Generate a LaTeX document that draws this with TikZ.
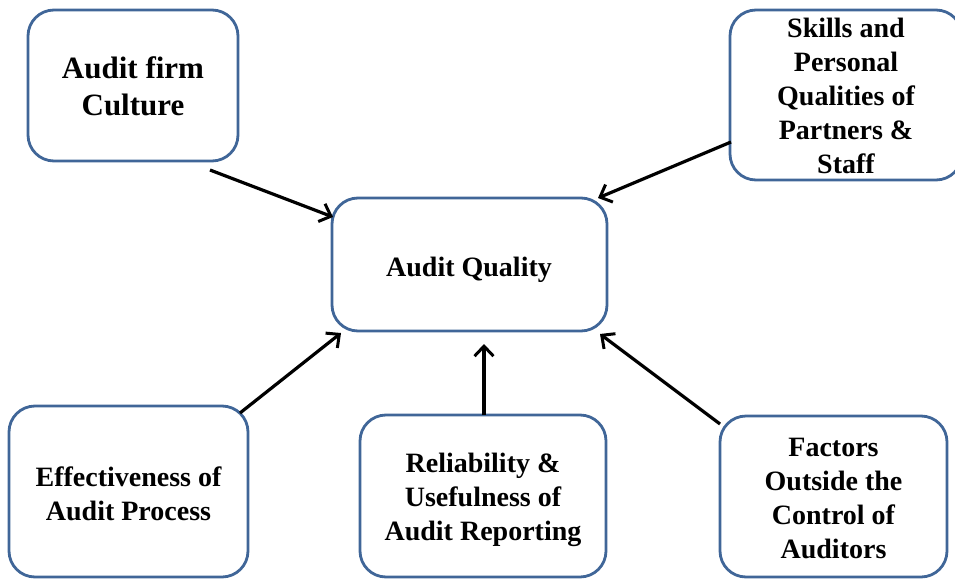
\documentclass[tikz,border=0pt]{standalone}
\usepackage{fontspec}
\setmainfont{Liberation Serif}
\usetikzlibrary{arrows.meta}
\definecolor{boxblue}{RGB}{64,102,152}
\begin{document}
\begin{tikzpicture}[x=1pt,y=-1pt,
  box/.style={draw=boxblue,line width=2.8pt,rounded corners=26pt,fill=white,inner sep=0pt},
  txt/.style={align=center,inner sep=0pt,font=\bfseries\fontsize{28}{34}\selectfont},
  conn/.style={line width=3.2pt,-{Straight Barb[length=10pt,width=19pt,line width=3pt]}}]
\useasboundingbox (0,0) rectangle (955,578);
\node[box,minimum width=210pt,minimum height=151pt] (culture) at (133,85.5) {};
\node[box,minimum width=232pt,minimum height=170pt] (skills) at (846,95) {};
\node[box,minimum width=275pt,minimum height=133pt] (quality) at (469.5,264.5) {};
\node[box,minimum width=239pt,minimum height=171pt] (process) at (128.5,491.5) {};
\node[box,minimum width=246pt,minimum height=162pt] (report) at (483,496) {};
\node[box,minimum width=227pt,minimum height=161pt] (factors) at (833.5,496.5) {};
\node[txt,font=\bfseries\fontsize{31}{37}\selectfont] (cultureT) at (133,86.5) {Audit firm\\Culture};
\node[txt] (skillsT) at (846,96) {Skills and\\Personal\\Qualities of\\Partners \&\\Staff};
\node[txt] (qualityT) at (469,269.5) {Audit Quality};
\node[txt] (processT) at (128.5,493.5) {Effectiveness of\\Audit Process};
\node[txt] (reportT) at (483,499.5) {Reliability \&\\Usefulness of\\Audit Reporting};
\node[txt] (factorsT) at (833.5,498) {Factors\\Outside the\\Control of\\Auditors};
\coordinate (s1) at (210,170); \coordinate (t1) at (333,217);
\coordinate (s2) at (731,142); \coordinate (t2) at (598,198);
\coordinate (s3) at (240,413); \coordinate (t3) at (341,333);
\coordinate (s4) at (484,415); \coordinate (t4) at (484,344);
\coordinate (s5) at (720,424); \coordinate (t5) at (600,334);
\draw[conn] (s1) -- (t1);
\draw[conn] (s2) -- (t2);
\draw[conn] (s3) -- (t3);
\draw[conn] (s4) -- (t4);
\draw[conn] (s5) -- (t5);
\end{tikzpicture}
\end{document}
